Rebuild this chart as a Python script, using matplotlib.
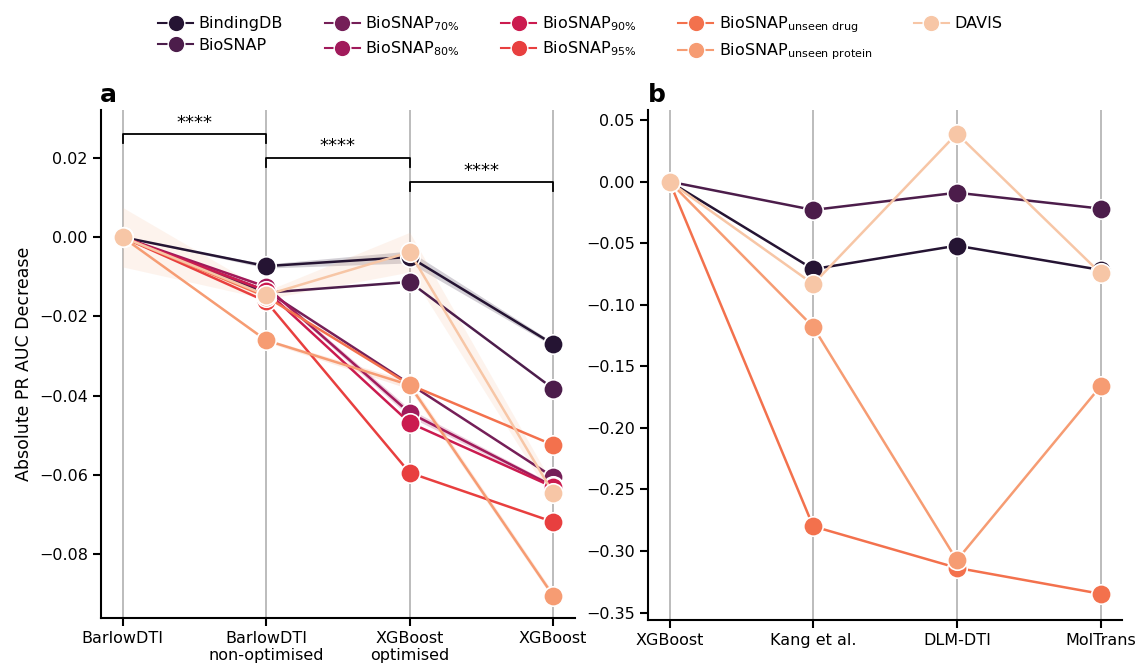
import numpy as np
import matplotlib
matplotlib.use("Agg")
from matplotlib import pyplot as plt
from matplotlib.lines import Line2D
import seaborn as sns

# Series names (legend order)
nomes = ["BindingDB", "BioSNAP", r"BioSNAP$_{\rm 70\%}$", r"BioSNAP$_{\rm 80\%}$",
         r"BioSNAP$_{\rm 90\%}$", r"BioSNAP$_{\rm 95\%}$",
         r"BioSNAP$_{\rm unseen\ drug}$", r"BioSNAP$_{\rm unseen\ protein}$", "DAVIS"]
cores = sns.color_palette("rocket", 9)

# Panel a: ablation
rotulos_a = ["BarlowDTI", "BarlowDTI\nnon-optimised", "XGBoost\noptimised", "XGBoost"]
bindingdb_a = [0.0, -0.0073, -0.0050, -0.0270]
biosnap_a = [0.0, -0.0140, -0.0113, -0.0382]
biosnap70_a = [0.0, -0.0135, -0.0370, -0.0605]
biosnap80_a = [0.0, -0.0125, -0.0443, -0.0628]
biosnap90_a = [0.0, -0.0135, -0.0468, -0.0630]
biosnap95_a = [0.0, -0.0162, -0.0594, -0.0718]
unseen_drug_a = [0.0, -0.0150, -0.0372, -0.0524]
unseen_prot_a = [0.0, -0.0260, -0.0373, -0.0904]
davis_a = [0.0, -0.0146, -0.0038, -0.0645]

# half-width of the confidence bands in panel a
ic_bindingdb = [0.0, 0.0005, 0.0015, 0.0005]
ic_biosnap80 = [0.0, 0.0004, 0.0010, 0.0005]
ic_unseen_prot = [0.0, 0.0004, 0.0010, 0.0008]
ic_davis = [0.0075, 0.0010, 0.0050, 0.0020]

# Panel b: comparison with other models
rotulos_b = ["XGBoost", "Kang et al.", "DLM-DTI", "MolTrans"]
bindingdb_b = [0.0, -0.0711, -0.0520, -0.0717]
biosnap_b = [0.0, -0.0230, -0.0090, -0.0219]
unseen_drug_b = [0.0, -0.2800, -0.3137, -0.3348]
unseen_prot_b = [0.0, -0.1180, -0.3075, -0.1663]
davis_b = [0.0, -0.0832, 0.0390, -0.0744]

# significance brackets on panel a: (x1, x2, height)
colchetes = [(0, 1, 0.0260), (1, 2, 0.0200), (2, 3, 0.0139)]

series_a = [bindingdb_a, biosnap_a, biosnap70_a, biosnap80_a, biosnap90_a,
            biosnap95_a, unseen_drug_a, unseen_prot_a, davis_a]
ics_a = {0: ic_bindingdb, 3: ic_biosnap80, 7: ic_unseen_prot, 8: ic_davis}
series_b = {0: bindingdb_b, 1: biosnap_b, 6: unseen_drug_b, 7: unseen_prot_b, 8: davis_b}

plt.rcParams['font.family'] = ['DejaVu Sans']
plt.rcParams['font.size'] = 11.5

fig = plt.figure(figsize=(11.38, 6.68), dpi=100)
ax_a = fig.add_axes([0.0888, 0.075, 0.4162, 0.760])
ax_b = fig.add_axes([0.5694, 0.072, 0.4166, 0.763])

estilo = dict(marker='o', markersize=14, markeredgecolor='white',
              markeredgewidth=1.2, linewidth=1.8)


def formatar(ax, rotulos):
    x = np.arange(len(rotulos))
    for xi in x:
        ax.axvline(xi, color='#b0b0b0', linewidth=1.2, zorder=0)
    ax.set_xticks(x)
    ax.set_xticklabels(rotulos)
    ax.set_xlim(-0.15, 3.15)
    for lado in ['top', 'right']:
        ax.spines[lado].set_visible(False)
    for lado in ['left', 'bottom']:
        ax.spines[lado].set_linewidth(1.5)
    ax.tick_params(width=1.5, length=6, labelsize=11.5)
    ax.yaxis.set_major_formatter(matplotlib.ticker.FuncFormatter(
        lambda v, p: f"{v:.2f}".replace('-', '\u2212')))


x = np.arange(4)
for i, ys in enumerate(series_a):
    if i in ics_a:
        ic = np.array(ics_a[i])
        ax_a.fill_between(x, np.array(ys) - ic, np.array(ys) + ic,
                          color=cores[i], alpha=0.2, linewidth=0, zorder=1)
    ax_a.plot(x, ys, color=cores[i], zorder=2 + i * 0.1, **estilo)

formatar(ax_a, rotulos_a)
ax_a.set_ylim(-0.096, 0.032)
ax_a.set_yticks([0.02, 0.0, -0.02, -0.04, -0.06, -0.08])
ax_a.set_ylabel("Absolute PR AUC Decrease", fontsize=12.5)

for x1, x2, h in colchetes:
    ax_a.plot([x1, x1, x2, x2], [h - 0.0022, h, h, h - 0.0022],
              color='black', linewidth=1.3, zorder=5)
    ax_a.text((x1 + x2) / 2, h + 0.0006, "****", ha='center', va='bottom',
              fontsize=13)

for i, ys in series_b.items():
    ax_b.plot(x, ys, color=cores[i], zorder=2 + i * 0.1, **estilo)

formatar(ax_b, rotulos_b)
ax_b.set_ylim(-0.356, 0.058)
ax_b.set_yticks([0.05, 0.0, -0.05, -0.10, -0.15, -0.20, -0.25, -0.30, -0.35])

fig.text(0.088, 0.848, "a", fontsize=18, fontweight='bold')
fig.text(0.569, 0.848, "b", fontsize=18, fontweight='bold')

alcas = [Line2D([0], [0], color=c, marker='o', markersize=12,
                markeredgecolor='white', markeredgewidth=1.0, linewidth=1.5)
         for c in cores]
fig.legend(alcas, nomes, loc='upper center', bbox_to_anchor=(0.51, 1.0),
           ncol=5, frameon=False, fontsize=11.5, handlelength=2.2,
           columnspacing=2.6, handletextpad=0.35, labelspacing=0.4)

fig.savefig("out.png", dpi=100)
